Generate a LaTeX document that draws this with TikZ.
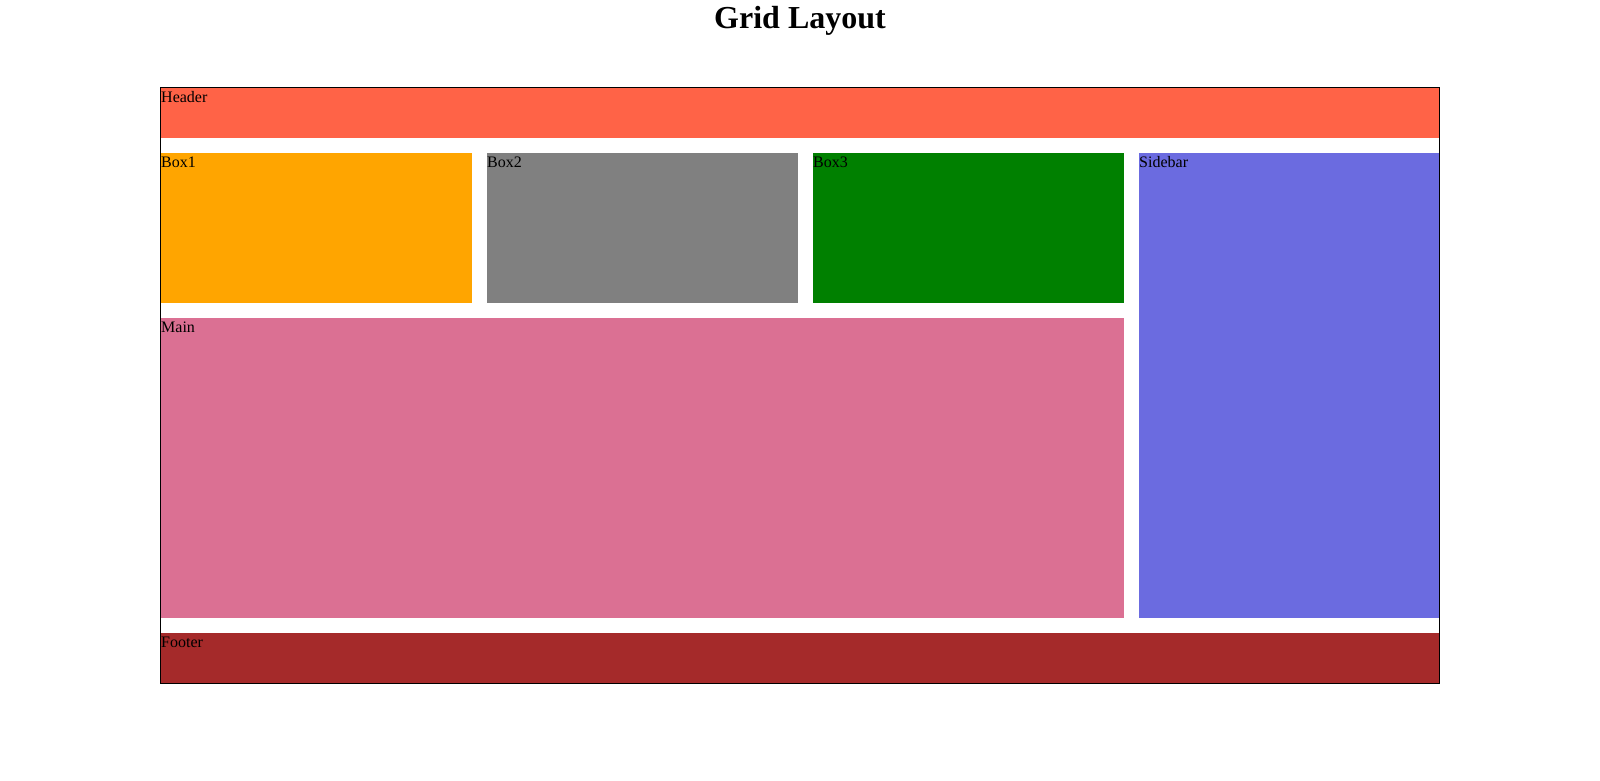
\documentclass[tikz,border=0pt]{standalone}
\usepackage{fontspec}
\setmainfont{Liberation Serif}
\definecolor{cheader}{HTML}{FF6347}
\definecolor{cbox1}{HTML}{FFA500}
\definecolor{cbox2}{HTML}{808080}
\definecolor{cbox3}{HTML}{008000}
\definecolor{cside}{HTML}{6B6BE0}
\definecolor{cmain}{HTML}{DB7093}
\definecolor{cfoot}{HTML}{A52A2A}
\tikzset{
  cell/.style={rectangle, inner sep=0pt, outer sep=0pt, draw=none, anchor=north west},
  lbl/.style={inner sep=0pt, anchor=base west, font=\fontsize{16pt}{18pt}\selectfont},
}
\begin{document}
\begin{tikzpicture}[x=1pt,y=-1pt]
\useasboundingbox (0,0) rectangle (1600,781);
\node[font=\fontsize{32pt}{37pt}\selectfont\bfseries, anchor=base, inner sep=0pt] (title) at (800,28.5) {Grid Layout};
% container with 1px border
\node[cell, fill=black, minimum width=1280pt, minimum height=597pt] (grid) at (160,87) {};
\node[cell, fill=white, minimum width=1278pt, minimum height=595pt] (gridin) at (161,88) {};
% cells
\node[cell, fill=cheader, minimum width=1278pt, minimum height=50pt] (header) at (161,88) {};
\node[cell, fill=cbox1, minimum width=311pt, minimum height=150pt] (box1) at (161,153) {};
\node[cell, fill=cbox2, minimum width=311pt, minimum height=150pt] (box2) at (487,153) {};
\node[cell, fill=cbox3, minimum width=311pt, minimum height=150pt] (box3) at (813,153) {};
\node[cell, fill=cside, minimum width=300pt, minimum height=465pt] (sidebar) at (1139,153) {};
\node[cell, fill=cmain, minimum width=963pt, minimum height=300pt] (main) at (161,318) {};
\node[cell, fill=cfoot, minimum width=1278pt, minimum height=50pt] (footer) at (161,633) {};
% labels
\node[lbl] (theader) at (161,102.2) {Header};
\node[lbl] (tbox1) at (161,167.2) {Box1};
\node[lbl] (tbox2) at (487,167.2) {Box2};
\node[lbl] (tbox3) at (813,167.2) {Box3};
\node[lbl] (tside) at (1139,167.2) {Sidebar};
\node[lbl] (tmain) at (161,332.2) {Main};
\node[lbl] (tfoot) at (161,647.2) {Footer};
\end{tikzpicture}
\end{document}
